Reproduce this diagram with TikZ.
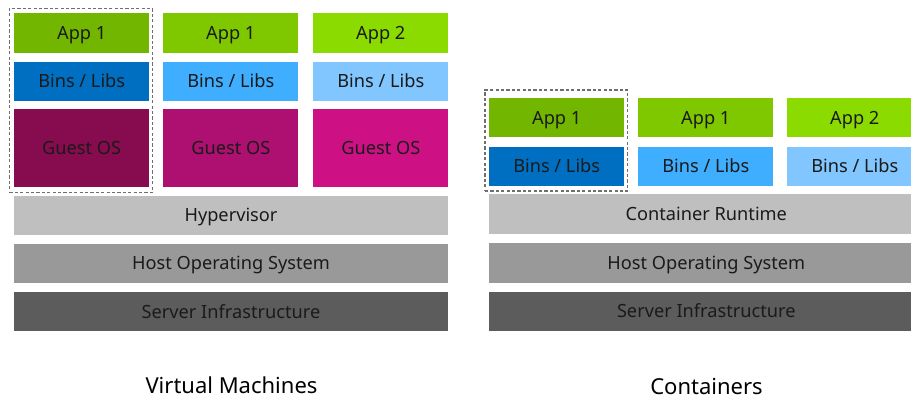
\documentclass[tikz,border=0pt]{standalone}
\usepackage{fontspec}
\setmainfont{Noto Sans}
\usetikzlibrary{fit}
\definecolor{appA}{HTML}{72B600}
\definecolor{appB}{HTML}{7FC800}
\definecolor{appC}{HTML}{8BDB00}
\definecolor{binA}{HTML}{006FC2}
\definecolor{binB}{HTML}{40AEFF}
\definecolor{binC}{HTML}{82C6FF}
\definecolor{osA}{HTML}{870C4F}
\definecolor{osB}{HTML}{AD1070}
\definecolor{osC}{HTML}{CD1185}
\definecolor{layA}{HTML}{BFBFBF}
\definecolor{layB}{HTML}{999999}
\definecolor{layC}{HTML}{5C5C5C}
\definecolor{ink}{HTML}{1A1A1A}
\definecolor{dashgray}{HTML}{6E6E6E}
\tikzset{
  blk/.style={rectangle, inner sep=0pt, text=ink, font=\fontsize{18.2}{20}\selectfont,
    text height=13pt, text depth=0pt, minimum width=135pt},
  wide/.style={blk, minimum width=434pt, minimum height=39.5pt},
  approw/.style={blk, minimum height=39.2pt},
  binrow/.style={blk, minimum height=39.2pt},
  osrow/.style={blk, minimum height=78.3pt},
  frame/.style={draw=dashgray, line width=1.1pt, dash pattern=on 3.2pt off 2.2pt, inner sep=0pt},
  caption/.style={text=black, font=\fontsize{22}{24}\selectfont, text height=15.7pt, text depth=0pt, inner sep=0pt}
}
\begin{document}
\begin{tikzpicture}[x=1pt,y=-1pt]
\useasboundingbox (0,0) rectangle (911,399);

% Virtual machine stack
\node[approw, fill=appA] (vmappa) at (81.7,33) {App 1};
\node[approw, fill=appB] (vmappb) at (230.8,33) {App 1};
\node[approw, fill=appC] (vmappc) at (380.8,33) {App 2};
\node[binrow, fill=binA] (vmbina) at (81.7,81.2) {Bins / Libs};
\node[binrow, fill=binB] (vmbinb) at (230.8,81.2) {Bins / Libs};
\node[binrow, fill=binC] (vmbinc) at (380.8,81.2) {Bins / Libs};
\node[osrow, fill=osA] (vmosa) at (81.7,148.2) {Guest OS};
\node[osrow, fill=osB] (vmosb) at (230.8,148.2) {Guest OS};
\node[osrow, fill=osC] (vmosc) at (380.8,148.2) {Guest OS};
\node[wide, fill=layA] (hyper) at (231,215.3) {Hypervisor};
\node[wide, fill=layB] (vmhost) at (231,263.3) {Host Operating System};
\node[wide, fill=layC] (vmserver) at (231,311.7) {Server Infrastructure};
\node[frame, fit={(9.3,8.3) (152.3,192.5)}] (vmframe) {};
\node[caption] (vmcap) at (231.5,385.5) {Virtual Machines};

% Container stack
\node[approw, fill=appA] (ctappa) at (556.7,117.8) {App 1};
\node[approw, fill=appB] (ctappb) at (705.8,117.8) {App 1};
\node[approw, fill=appC] (ctappc) at (854.8,117.8) {App 2};
\node[binrow, fill=binA] (ctbina) at (556.7,166.3) {Bins / Libs};
\node[binrow, fill=binB] (ctbinb) at (705.8,166.3) {Bins / Libs};
\node[binrow, fill=binC] (ctbinc) at (854.8,166.3) {Bins / Libs};
\node[wide, fill=layA] (runtime) at (706.3,213.8) {Container Runtime};
\node[wide, fill=layB] (cthost) at (706.3,262.8) {Host Operating System};
\node[wide, fill=layC] (ctserver) at (706.3,311.3) {Server Infrastructure};
\node[frame, fit={(485,90) (627.7,191)}] (ctframe) {};
\node[caption] (ctcap) at (706.5,386.5) {Containers};
\end{tikzpicture}
\end{document}
